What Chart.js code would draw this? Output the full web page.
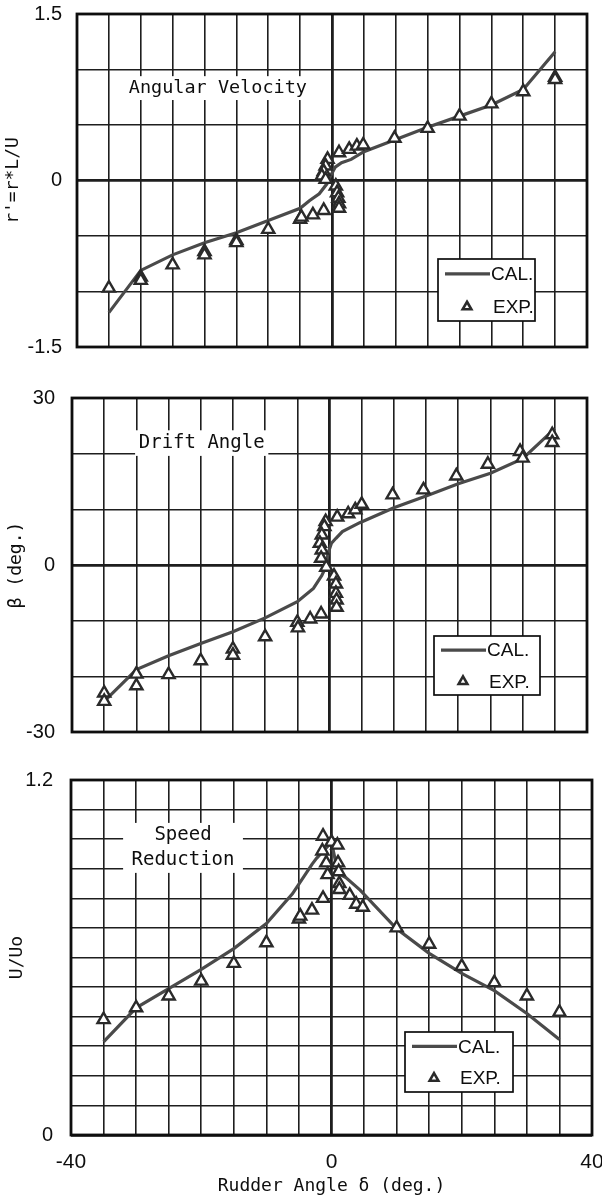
<!DOCTYPE html>
<html>
<head>
<meta charset="utf-8">
<script src="https://cdn.jsdelivr.net/npm/chart.js@4.4.1/dist/chart.umd.min.js"></script>
<style>
  html, body { margin: 0; padding: 0; background: #fff; }
  #wrap { position: relative; width: 602px; height: 1201px; overflow: hidden; background: #fff; }
  #wrap canvas { position: absolute; left: 0; }
</style>
</head>
<body>
<div id="wrap">
  <canvas id="angVel" width="602" height="360" style="top:0px"></canvas>
  <canvas id="drift" width="602" height="400" style="top:360px"></canvas>
  <canvas id="speed" width="602" height="441" style="top:760px"></canvas>
</div>
<script>
// ---- Angular velocity r' = r*L/U versus rudder angle ----
const angVelCalDelta = [-35, -30, -25, -20, -15, -10, -5, -3.5, -2, -0.8, -0.3, 0.5, 1.5, 3, 5, 10, 15, 20, 25, 30, 35];
const angVelCalR     = [-1.19, -0.81, -0.67, -0.56, -0.47, -0.36, -0.25, -0.18, -0.12, -0.03, 0.035, 0.12, 0.16, 0.19, 0.26, 0.37, 0.48, 0.58, 0.68, 0.82, 1.16];
const angVelExpDelta = [-35, -30, -30, -25, -20, -20, -15, -15, -10, -5, -4.8, -3, -1.3, -0.7, -1.0, -1.3, -1.6, -1.0, 0.6, 0.8, 1.0, 1.1, 1.1, 1.1, 2.7, 3.9, 4.9, 9.8, 15, 20, 25, 30, 35, 35];
const angVelExpR     = [-0.97, -0.87, -0.90, -0.76, -0.64, -0.67, -0.54, -0.56, -0.44, -0.35, -0.33, -0.31, -0.27, 0.19, 0.13, 0.08, 0.04, 0.01, -0.05, -0.11, -0.16, -0.21, -0.25, 0.25, 0.28, 0.31, 0.32, 0.38, 0.47, 0.58, 0.69, 0.80, 0.93, 0.91];
const angVelTickLabels = ['-1.5', '0', '1.5'];

// ---- Drift angle beta (deg.) ----
const driftCalDelta = [-35, -30, -25, -20, -15, -10, -5, -2.5, -1.2, -0.6, -0.2, 0.3, 1, 2, 4.7, 10, 15, 20, 25, 30, 35];
const driftCalBeta  = [-24.5, -18.8, -16.3, -14.1, -12.0, -9.5, -6.6, -4.2, -1.9, -0.4, 2.2, 3.9, 4.8, 6.0, 7.6, 10.3, 12.4, 14.6, 16.5, 19.1, 24.5];
const driftExpDelta = [-35, -35, -30, -30, -25, -20, -15, -15, -10, -5, -4.9, -3, -1.3, -0.6, -0.8, -1.2, -1.5, -1.2, -1.3, -0.5, 0.7, 1.0, 1.0, 1.1, 1.1, 1.2, 2.9, 4.0, 5.0, 9.8, 14.6, 19.7, 24.6, 29.6, 30, 34.6, 34.6];
const driftExpBeta  = [-23.0, -24.5, -19.6, -21.7, -19.7, -17.2, -15.1, -16.2, -12.9, -10.3, -11.3, -9.7, -8.8, 7.8, 6.9, 5.4, 3.9, 2.7, 1.2, -0.4, -2.0, -3.4, -5.1, -6.3, -7.6, 8.6, 9.2, 9.9, 10.9, 12.6, 13.5, 16.0, 18.1, 20.4, 19.2, 23.4, 22.0];
const driftTickLabels = ['-30', '0', '30'];

// ---- Speed reduction U/Uo ----
const speedCalDelta = [-35, -30, -25, -20, -15, -10, -6, -3, -2.3, 0, 1, 2.2, 4.4, 10, 15, 20, 25, 30, 35];
const speedCalU     = [0.315, 0.43, 0.495, 0.56, 0.63, 0.715, 0.815, 0.915, 0.935, 0.99, 0.885, 0.87, 0.828, 0.697, 0.614, 0.546, 0.488, 0.411, 0.323];
const speedExpDelta = [-35, -30, -25, -20, -15, -10, -5, -4.8, -3, -1.3, -1.3, 0, 0.9, -1.4, -0.8, 1.0, -0.6, 1.1, 1.2, 1.2, 2.8, 3.8, 4.8, 10, 15, 20, 25, 30, 35];
const speedExpU     = [0.39, 0.43, 0.47, 0.52, 0.58, 0.65, 0.73, 0.74, 0.76, 0.80, 1.01, 0.99, 0.98, 0.96, 0.92, 0.92, 0.88, 0.89, 0.85, 0.83, 0.81, 0.78, 0.77, 0.70, 0.645, 0.57, 0.515, 0.47, 0.415];
const speedTickLabels = ['0', '1.2'];

const rudderTickLabels = ['-40', '0', '40'];

// ---- styling ----
const INK = '#0e0e0e';
const GRID = '#1e1e1e';
const CAL_COLOR = '#4a4a4a';
const EXP_COLOR = '#2a2a2a';
const MONO = '"DejaVu Sans Mono", monospace';
const SANS = '"Liberation Sans", Arial, sans-serif';
const NARROW = '"Liberation Sans Narrow", "Liberation Sans", Arial, sans-serif';

const zip = (xs, ys) => xs.map((x, i) => ({ x, y: ys[i] }));
const pickLabel = (labels, v) => {
  const hit = labels.find(s => Math.abs(parseFloat(s) - v) < 1e-6);
  return hit === undefined ? '' : hit;
};
const gridWidth = c => (c.tick && Math.abs(c.tick.value) < 1e-9) ? 2.8 : 1.6;

// Text box, frame and in-plot legend of each panel
const panelDecor = {
  id: 'panelDecor',
  beforeDatasetsDraw(chart, args, opts) {
    const { ctx, scales: { x, y } } = chart;
    const n = opts.note;
    const l = x.getPixelForValue(n.box[0]), r = x.getPixelForValue(n.box[1]);
    const t = y.getPixelForValue(n.box[2]), b = y.getPixelForValue(n.box[3]);
    ctx.save();
    ctx.fillStyle = '#fff';
    ctx.fillRect(l, t, r - l, b - t);
    ctx.fillStyle = INK;
    ctx.font = n.size + 'px ' + MONO;
    ctx.textAlign = 'center';
    ctx.textBaseline = 'middle';
    const cx = (l + r) / 2, cy = (t + b) / 2;
    n.lines.forEach((s, i) => {
      ctx.fillText(s, cx, cy + (i - (n.lines.length - 1) / 2) * n.gap);
    });
    ctx.restore();
  },
  afterDatasetsDraw(chart, args, opts) {
    const { ctx, chartArea: a } = chart;
    ctx.save();
    // plot frame
    ctx.strokeStyle = INK;
    ctx.lineWidth = 2.8;
    ctx.strokeRect(a.left, a.top, a.right - a.left, a.bottom - a.top);

    // legend box
    const lg = opts.legend;
    const bx = a.right - lg.right - lg.w;
    const by = a.bottom - lg.bottom - lg.h;
    ctx.fillStyle = '#fff';
    ctx.fillRect(bx, by, lg.w, lg.h);
    ctx.lineWidth = 1.7;
    ctx.strokeStyle = INK;
    ctx.strokeRect(bx, by, lg.w, lg.h);

    const exp = chart.data.datasets[0];
    const cal = chart.data.datasets[1];
    const y1 = by + lg.h * 0.24, y2 = by + lg.h * 0.77;

    ctx.strokeStyle = cal.borderColor;
    ctx.lineWidth = cal.borderWidth;
    ctx.beginPath();
    ctx.moveTo(bx + 7, y1);
    ctx.lineTo(bx + 52, y1);
    ctx.stroke();

    const rr = 5, mx = bx + 29;
    ctx.beginPath();
    ctx.moveTo(mx, y2 - rr);
    ctx.lineTo(mx + rr * 0.866, y2 + rr / 2);
    ctx.lineTo(mx - rr * 0.866, y2 + rr / 2);
    ctx.closePath();
    ctx.fillStyle = '#fff';
    ctx.fill();
    ctx.lineWidth = 2.6;
    ctx.strokeStyle = exp.borderColor;
    ctx.stroke();

    ctx.fillStyle = INK;
    ctx.font = '19px ' + NARROW;
    ctx.textAlign = 'left';
    ctx.textBaseline = 'middle';
    ctx.fillText(cal.label, bx + 53, y1 + 1);
    ctx.fillText(exp.label, bx + 55, y2 + 1);
    ctx.restore();
  }
};

function makePanel(id, p) {
  return new Chart(document.getElementById(id), {
    type: 'scatter',
    data: {
      datasets: [
        {
          label: 'EXP.',
          data: zip(p.expX, p.expY),
          showLine: false,
          pointStyle: 'triangle',
          pointRadius: 7,
          pointBorderWidth: 2.4,
          borderColor: EXP_COLOR,
          backgroundColor: '#fff',
          order: 0
        },
        {
          label: 'CAL.',
          data: zip(p.calX, p.calY),
          showLine: true,
          pointRadius: 0,
          borderColor: CAL_COLOR,
          borderWidth: 3.2,
          tension: 0,
          fill: false,
          order: 1
        }
      ]
    },
    options: {
      responsive: false,
      animation: false,
      devicePixelRatio: 1,
      layout: { padding: p.padding },
      plugins: {
        legend: { display: false },
        tooltip: { enabled: false },
        panelDecor: { note: p.note, legend: p.legend }
      },
      scales: {
        x: {
          type: 'linear',
          min: -40, max: 40,
          ticks: {
            stepSize: 5,
            display: p.showX,
            autoSkip: false,
            maxRotation: 0,
            padding: 15,
            color: INK,
            font: { family: SANS, size: 21 },
            callback: v => pickLabel(rudderTickLabels, v)
          },
          grid: { color: GRID, lineWidth: gridWidth, drawTicks: false },
          border: { display: false },
          title: {
            display: p.showX,
            text: 'Rudder Angle δ (deg.)',
            color: INK,
            font: { family: MONO, size: 18 },
            padding: { top: 0, bottom: 4 }
          },
          afterFit: s => { s.height = p.xHeight; s.paddingLeft = 0; s.paddingRight = 0; }
        },
        y: {
          type: 'linear',
          min: p.yMin, max: p.yMax,
          ticks: {
            stepSize: p.yStep,
            autoSkip: false,
            padding: p.yTickPad,
            color: INK,
            font: { family: SANS, size: 20 },
            callback: v => pickLabel(p.yLabels, v)
          },
          grid: { color: GRID, lineWidth: gridWidth, drawTicks: false },
          border: { display: false },
          title: {
            display: true,
            text: p.yTitle,
            color: INK,
            font: { family: MONO, size: 18 },
            padding: { top: p.yTitlePad, bottom: 0 }
          },
          afterFit: s => { s.width = p.yWidth; s.paddingTop = 0; s.paddingBottom = 0; }
        }
      }
    },
    plugins: [panelDecor]
  });
}

makePanel('angVel', {
  calX: angVelCalDelta, calY: angVelCalR,
  expX: angVelExpDelta, expY: angVelExpR,
  yMin: -1.5, yMax: 1.5, yStep: 0.5, yLabels: angVelTickLabels,
  yTitle: "r'=r*L/U", yTitlePad: 3, yTickPad: 15, yWidth: 77,
  showX: false, xHeight: 0,
  padding: { top: 14, right: 15, bottom: 13, left: 0 },
  note: { lines: ['Angular Velocity'], size: 18.5, gap: 0, box: [-32.5, -3.3, 0.94, 0.725] },
  legend: { right: 52, bottom: 26, w: 97, h: 62 }
});

makePanel('drift', {
  calX: driftCalDelta, calY: driftCalBeta,
  expX: driftExpDelta, expY: driftExpBeta,
  yMin: -30, yMax: 30, yStep: 10, yLabels: driftTickLabels,
  yTitle: 'β (deg.)', yTitlePad: 6, yTickPad: 17, yWidth: 72,
  showX: false, xHeight: 0,
  padding: { top: 38, right: 15, bottom: 28, left: 0 },
  note: { lines: ['Drift Angle'], size: 19, gap: 0, box: [-30.2, -9.5, 24.2, 19.6] },
  legend: { right: 47, bottom: 37, w: 106, h: 59 }
});

makePanel('speed', {
  calX: speedCalDelta, calY: speedCalU,
  expX: speedExpDelta, expY: speedExpU,
  yMin: 0, yMax: 1.2, yStep: 0.1, yLabels: speedTickLabels,
  yTitle: 'U/Uo', yTitlePad: 7, yTickPad: 18, yWidth: 71,
  showX: true, xHeight: 66,
  padding: { top: 20, right: 10, bottom: 0, left: 0 },
  note: { lines: ['Speed', 'Reduction'], size: 19, gap: 25, box: [-32.0, -13.6, 1.055, 0.886] },
  legend: { right: 79, bottom: 43, w: 108, h: 60 }
});
</script>
</body>
</html>
